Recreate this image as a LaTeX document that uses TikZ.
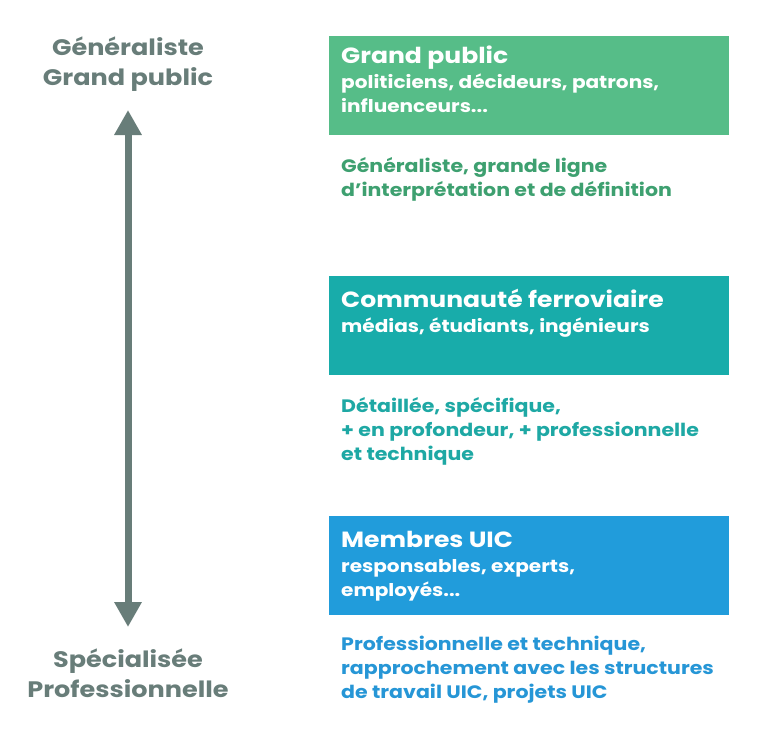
\documentclass[tikz,border=0pt]{standalone}
\usepackage{fontspec}
\setmainfont{Poppins}[FakeStretch=1.14]
\usetikzlibrary{arrows.meta}

\definecolor{grisaxe}{RGB}{104,125,121}
\definecolor{vertbox}{RGB}{86,189,136}
\definecolor{verttxt}{RGB}{62,160,112}
\definecolor{tealbox}{RGB}{24,172,170}
\definecolor{tealtxt}{RGB}{30,168,164}
\definecolor{bleubox}{RGB}{33,156,219}
\definecolor{bleutxt}{RGB}{38,150,214}

% base = ligne du bas pour les textes sur plusieurs lignes
\tikzset{
  titre/.style={anchor=base west, inner sep=0pt, text=white, font=\bfseries\fontsize{22}{24}\selectfont},
  sous/.style={anchor=base west, inner sep=0pt, text=white, align=left, font=\bfseries\fontsize{17.6}{24}\selectfont},
  descr/.style={anchor=base west, inner sep=0pt, align=left, font=\bfseries\fontsize{18}{24}\selectfont},
  pole/.style={anchor=base, inner sep=0pt, text=grisaxe, align=center, font=\bfseries\fontsize{22.4}{30}\selectfont}
}

\begin{document}
\begin{tikzpicture}[x=1pt,y=-1pt]
  \useasboundingbox (0,0) rectangle (760,729);

  % axe vertical
  \node[pole] (haut) at (128,85) {Généraliste\\Grand public};
  \node[pole] (bas) at (128,697) {Spécialisée\\Professionnelle};
  \coordinate (flhaut) at (128,110);
  \coordinate (flbas) at (128,627);
  \draw[grisaxe, line width=7pt, {Triangle[width=26pt,length=25pt]}-{Triangle[width=26pt,length=25pt]}] (flhaut) -- (flbas);

  % grand public
  \fill[vertbox] (329,36) rectangle (729,135);
  \node[titre] (gp) at (341,63) {Grand public};
  \node[sous] (gpsous) at (341,112) {politiciens, décideurs, patrons,\\influenceurs...};
  \node[descr, text=verttxt] (gpdescr) at (341,196) {Généraliste, grande ligne\\d’interprétation et de définition};

  % communaute ferroviaire
  \fill[tealbox] (329,276) rectangle (729,375);
  \node[titre] (cf) at (341,307) {Communauté ferroviaire};
  \node[sous] (cfsous) at (341,332) {médias, étudiants, ingénieurs};
  \node[descr, text=tealtxt] (cfdescr) at (341,460) {Détaillée, spécifique,\\+ en profondeur, + professionnelle\\et technique};

  % membres UIC
  \fill[bleubox] (329,516) rectangle (729,615);
  \node[titre] (uic) at (341,547) {Membres UIC};
  \node[sous] (uicsous) at (341,596) {responsables, experts,\\employés...};
  \node[descr, text=bleutxt] (uicdescr) at (341,698) {Professionnelle et technique,\\rapprochement avec les structures\\de travail UIC, projets UIC};
\end{tikzpicture}
\end{document}
